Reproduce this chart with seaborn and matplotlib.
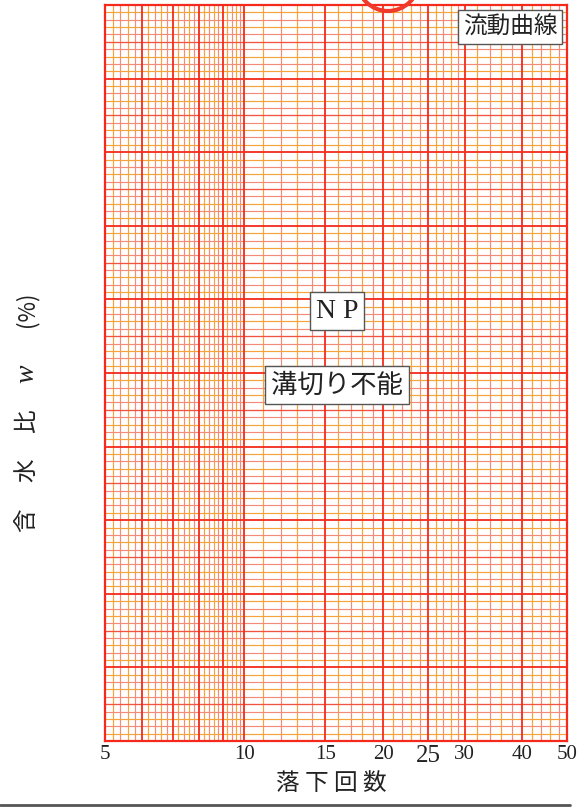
import matplotlib
matplotlib.use("Agg")
import matplotlib.pyplot as plt
import seaborn as sns
from matplotlib.patches import Ellipse

# ---------------------------------------------------------
# Grid data (semi-log flow curve paper)
# ---------------------------------------------------------
x_major = [5, 6, 7, 8, 9, 10, 15, 20, 25, 30, 40, 50]
x_minor_a = [5.2, 5.6, 6.2, 6.6, 7.2, 7.6, 8.2, 8.6, 9.2, 9.6,
             11, 13, 16, 18, 21, 23, 26, 28, 32, 36, 42, 46]
x_minor_b = [5.4, 5.8, 6.4, 6.8, 7.4, 7.8, 8.4, 8.8, 9.4, 9.8,
             12, 14, 17, 19, 22, 24, 27, 29, 34, 38, 44, 48]
y_major = [0, 10, 20, 30, 40, 50, 60, 70, 80, 90, 100]
y_mid = [5, 15, 25, 35, 45, 55, 65, 75, 85, 95]
y_minor_a = [1, 3, 7, 9, 11, 13, 17, 19, 21, 23, 27, 29, 31, 33, 37, 39,
             41, 43, 47, 49, 51, 53, 57, 59, 61, 63, 67, 69, 71, 73, 77, 79,
             81, 83, 87, 89, 91, 93, 97, 99]
y_minor_b = [2, 4, 6, 8, 12, 14, 16, 18, 22, 24, 26, 28, 32, 34, 36, 38,
             42, 44, 46, 48, 52, 54, 56, 58, 62, 64, 66, 68, 72, 74, 76, 78,
             82, 84, 86, 88, 92, 94, 96, 98]
x_tick_vals = [5, 10, 15, 20, 25, 30, 40, 50]
x_tick_labels = ["5", "10", "15", "20", "25", "30", "40", "50"]
x_label_chars = ["落", "下", "回", "数"]
y_label_chars = ["含", "水", "比"]

RED = "#f52a1c"
MIDRED = "#f4533f"
ORANGE = "#f5a43a"
PINK = "#f48a78"
INK = "#222222"

sns.set_theme(style="white")
plt.rcParams["font.family"] = ["Noto Sans CJK JP", "DejaVu Sans"]

fig = plt.figure(figsize=(5.81, 8.09), dpi=100)
fig.patch.set_facecolor("white")
ax = fig.add_axes([105 / 581, 1 - 741 / 809, 462 / 581, 736 / 809])
ax.set_facecolor("white")
ax.set_xscale("log")
ax.set_xlim(5, 50)
ax.set_ylim(0, 100)

# ---- grid lines ----
ax.vlines(x_minor_a, 0, 100, colors=ORANGE, linewidth=0.85, zorder=1)
ax.vlines(x_minor_b, 0, 100, colors=PINK, linewidth=0.85, zorder=1)
ax.hlines(y_minor_a, 5, 50, colors=ORANGE, linewidth=0.85, zorder=1)
ax.hlines(y_minor_b, 5, 50, colors=PINK, linewidth=0.85, zorder=1)
ax.hlines(y_mid, 5, 50, colors=MIDRED, linewidth=0.95, zorder=2)
ax.vlines(x_major, 0, 100, colors=RED, linewidth=1.3, zorder=3)
ax.hlines(y_major, 5, 50, colors=RED, linewidth=1.3, zorder=3)

for s in ax.spines.values():
    s.set_color(RED)
    s.set_linewidth(1.6)

# ---- ticks ----
ax.minorticks_off()
ax.set_xticks(x_tick_vals)
ax.set_xticklabels(x_tick_labels, family="Liberation Serif", fontsize=15)
ax.set_yticks([])
ax.tick_params(axis="x", length=0, pad=3, colors=INK)
for lab in ax.get_xticklabels():
    if lab.get_text() == "25":
        lab.set_fontsize(18)

# ---- text boxes ----
box = dict(boxstyle="square,pad=0.22", facecolor="white", edgecolor="#555555", linewidth=1)
fig.text(510 / 581, 1 - 27 / 809, "流動曲線", fontsize=17, ha="center", va="center",
         color=INK, bbox=box)
fig.text(337 / 581, 1 - 311 / 809, "N P", family="Liberation Serif", fontsize=20,
         ha="center", va="center", color=INK, bbox=box)
fig.text(337 / 581, 1 - 385 / 809, "溝切り不能", fontsize=19, ha="center", va="center",
         color=INK, bbox=box)

# ---- axis labels ----
for ch, xx in zip(x_label_chars, [288, 316, 345, 374]):
    fig.text(xx / 581, 1 - 784 / 809, ch, fontsize=17, ha="center", va="center", color=INK)
for ch, yy in zip(y_label_chars, [520, 470, 421]):
    fig.text(27 / 581, 1 - yy / 809, ch, fontsize=17, rotation=90, ha="center",
             va="center", color=INK)
fig.text(27 / 581, 1 - 374 / 809, "w", fontsize=20, rotation=90, ha="center",
         va="center", color=INK, family="Liberation Serif", style="italic")
fig.text(27 / 581, 1 - 309 / 809, "(%)", fontsize=16, rotation=90, ha="center",
         va="center", color=INK)

# ---- stamp fragment and bottom rule ----
stamp = Ellipse((388 / 581, 1 + 20 / 809), 62 / 581, 62 / 809, transform=fig.transFigure,
                facecolor="none", edgecolor="#f03a2a", linewidth=3, zorder=10)
fig.patches.append(stamp)
fig.add_artist(plt.Line2D([0, 570 / 581], [1 - 805 / 809, 1 - 805 / 809],
                          color="#555555", linewidth=2))

fig.savefig("out.png", dpi=100)
